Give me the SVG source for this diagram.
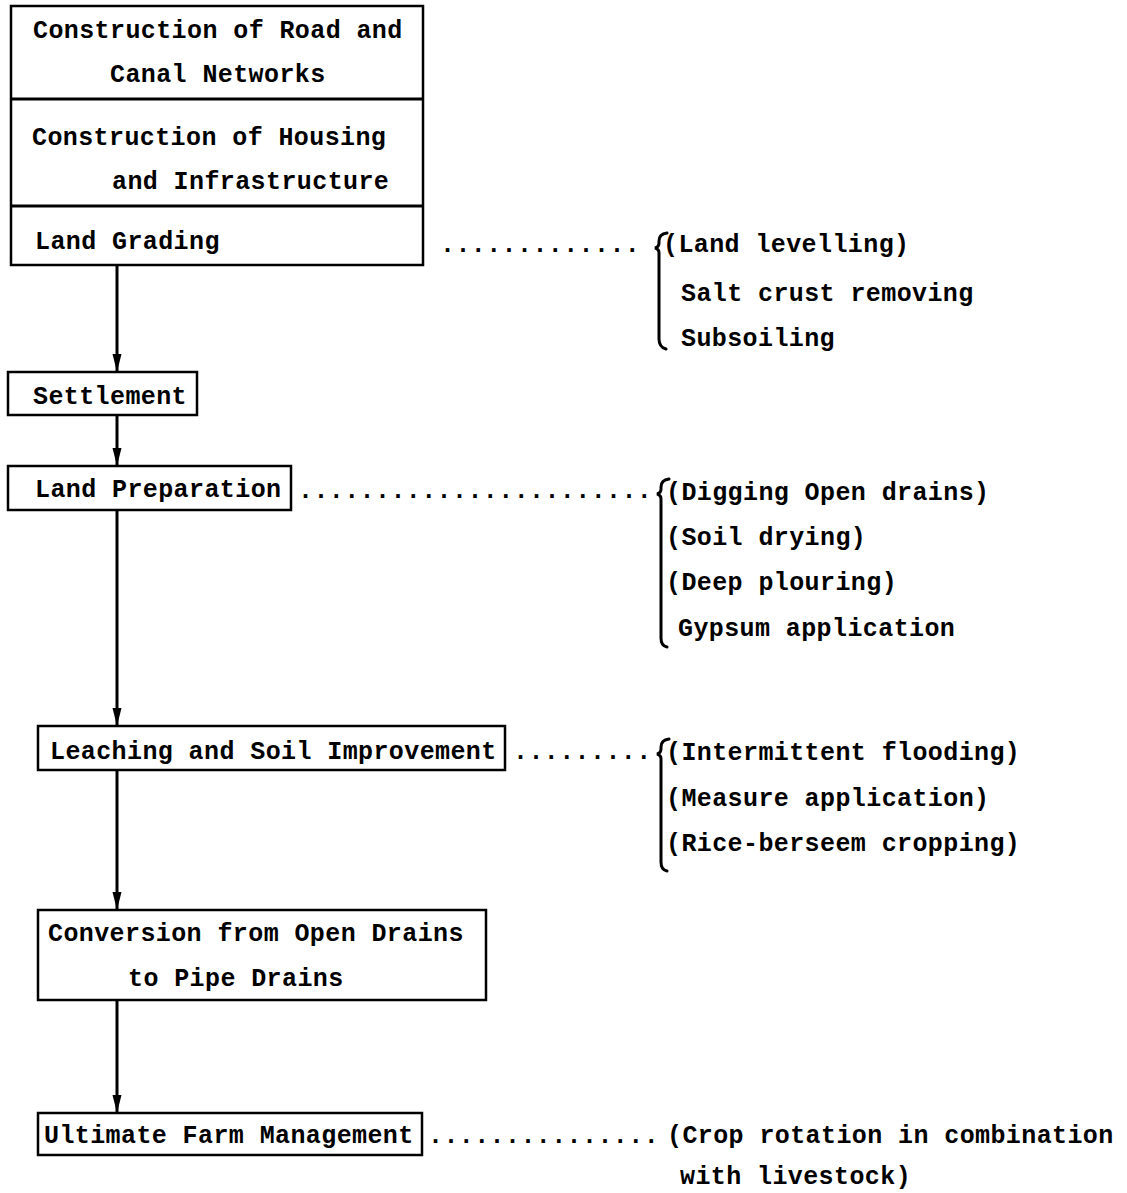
<svg xmlns="http://www.w3.org/2000/svg" width="1127" height="1193" viewBox="0 0 1127 1193">
<style>
.t{font-family:"Liberation Mono","Courier New",monospace;font-weight:bold;font-size:25px;letter-spacing:0.4px;fill:#000}
.box{fill:#fff;stroke:#000;stroke-width:2.5}
.conn{stroke:#000;stroke-width:3;fill:none}
.brace{stroke:#000;stroke-width:3;fill:none;stroke-linecap:round}
</style>
<defs>
<marker id="arr" markerUnits="userSpaceOnUse" markerWidth="20" markerHeight="12" refX="18" refY="6" orient="auto" viewBox="0 0 20 12">
<path d="M0,1.5 L18,6 L0,10.5 Z" fill="#000"/>
</marker>
</defs>
<rect width="1127" height="1193" fill="#fff"/>
<g id="connectors">
<line class="conn" x1="117" y1="265" x2="117" y2="372" marker-end="url(#arr)"/>
<line class="conn" x1="117" y1="415" x2="117" y2="466" marker-end="url(#arr)"/>
<line class="conn" x1="117" y1="510" x2="117" y2="726" marker-end="url(#arr)"/>
<line class="conn" x1="117" y1="770" x2="117" y2="910" marker-end="url(#arr)"/>
<line class="conn" x1="117" y1="1000" x2="117" y2="1113" marker-end="url(#arr)"/>
</g>
<g id="top-block">
<rect class="box" x="11" y="6" width="412" height="259"/>
<line class="conn" stroke-width="2.5" x1="11" y1="99" x2="423" y2="99"/>
<line class="conn" stroke-width="2.5" x1="11" y1="206" x2="423" y2="206"/>
<text class="t" x="33" y="38">Construction of Road and</text>
<text class="t" x="110" y="82">Canal Networks</text>
<text class="t" x="32" y="145">Construction of Housing</text>
<text class="t" x="112" y="189">and Infrastructure</text>
<text class="t" x="35" y="249">Land Grading</text>
</g>
<g id="note-grading">
<text class="t" x="440" y="252">.............</text>
<path class="brace" d="M667,233 Q659,234 659,241 L659,243 Q659,247 655,248 Q659,249 659,253 L659,339 Q659,347 666,349"/>
<text class="t" x="663" y="252">(Land levelling)</text>
<text class="t" x="681" y="301">Salt crust removing</text>
<text class="t" x="681" y="346">Subsoiling</text>
</g>
<g id="settlement">
<rect class="box" x="8" y="372" width="189" height="43"/>
<text class="t" x="33" y="404">Settlement</text>
</g>
<g id="land-preparation">
<rect class="box" x="8" y="466" width="283" height="44"/>
<text class="t" x="35" y="497">Land Preparation</text>
</g>
<g id="note-preparation">
<text class="t" x="298" y="498">.......................</text>
<path class="brace" d="M669,479 Q661,480 661,487 L661,489 Q661,493 657,494 Q661,495 661,499 L661,638 Q661,646 667,647"/>
<text class="t" x="666" y="500">(Digging Open drains)</text>
<text class="t" x="666" y="545">(Soil drying)</text>
<text class="t" x="666" y="590">(Deep plouring)</text>
<text class="t" x="678" y="636">Gypsum application</text>
</g>
<g id="leaching">
<rect class="box" x="38" y="726" width="467" height="44"/>
<text class="t" x="50" y="759">Leaching and Soil Improvement</text>
</g>
<g id="note-leaching">
<text class="t" x="513" y="759">.........</text>
<path class="brace" d="M669,739 Q661,740 661,747 L661,749 Q661,753 657,754 Q661,755 661,759 L661,862 Q661,870 667,871"/>
<text class="t" x="666" y="760">(Intermittent flooding)</text>
<text class="t" x="666" y="806">(Measure application)</text>
<text class="t" x="666" y="851">(Rice-berseem cropping)</text>
</g>
<g id="conversion">
<rect class="box" x="38" y="910" width="448" height="90"/>
<text class="t" x="48" y="941">Conversion from Open Drains</text>
<text class="t" x="128" y="986">to Pipe Drains</text>
</g>
<g id="ultimate">
<rect class="box" x="38" y="1113" width="384" height="42"/>
<text class="t" x="44" y="1143">Ultimate Farm Management</text>
</g>
<g id="note-ultimate">
<text class="t" x="428" y="1143">...............</text>
<text class="t" x="667" y="1143">(Crop rotation in combination</text>
<text class="t" x="680" y="1184">with livestock)</text>
</g>
</svg>
